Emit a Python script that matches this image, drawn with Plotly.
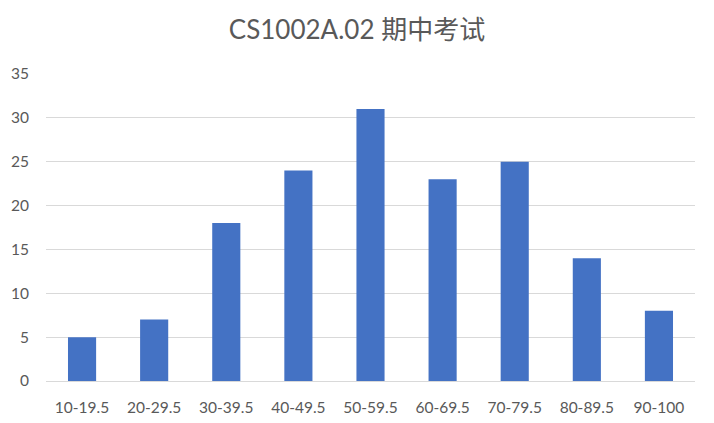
import plotly.graph_objects as go

# score bins and number of students
bins = ['10-19.5', '20-29.5', '30-39.5', '40-49.5', '50-59.5',
        '60-69.5', '70-79.5', '80-89.5', '90-100']
counts = [5, 7, 18, 24, 31, 23, 25, 14, 8]
y_ticks = [0, 5, 10, 15, 20, 25, 30, 35]

fig = go.Figure()

fig.add_trace(go.Bar(x=bins, y=counts,
                     marker=dict(color='#4472C4', line=dict(width=0))))

fig.update_layout(
    width=714, height=423,
    title=dict(text='CS1002A.02 期中考试', x=0.5, xanchor='center',
               y=0.93, yanchor='middle',
               font=dict(size=26, color='#595959',
                         family='Lato, Noto Sans CJK SC')),
    font=dict(family='Lato, Noto Sans CJK SC', size=15.5, color='#595959'),
    plot_bgcolor='white', paper_bgcolor='white',
    margin=dict(l=46, r=19, t=74, b=42, autoexpand=False),
    bargap=0.61,
    showlegend=False,
)

fig.update_yaxes(range=[0, 35], tickvals=y_ticks, showgrid=True,
                 gridcolor='#D9D9D9', gridwidth=1, zeroline=False,
                 showline=False, ticks='', ticklabelstandoff=16,
                 automargin=False)
fig.update_xaxes(showline=True, linecolor='#D9D9D9', linewidth=1,
                 ticks='', showgrid=False, ticklabelstandoff=12,
                 automargin=False)

# drop the default page margin so the figure sits at the window's corner
fig.write_html("out.html", config={'displayModeBar': False},
               post_script="document.body.style.margin='0';")
